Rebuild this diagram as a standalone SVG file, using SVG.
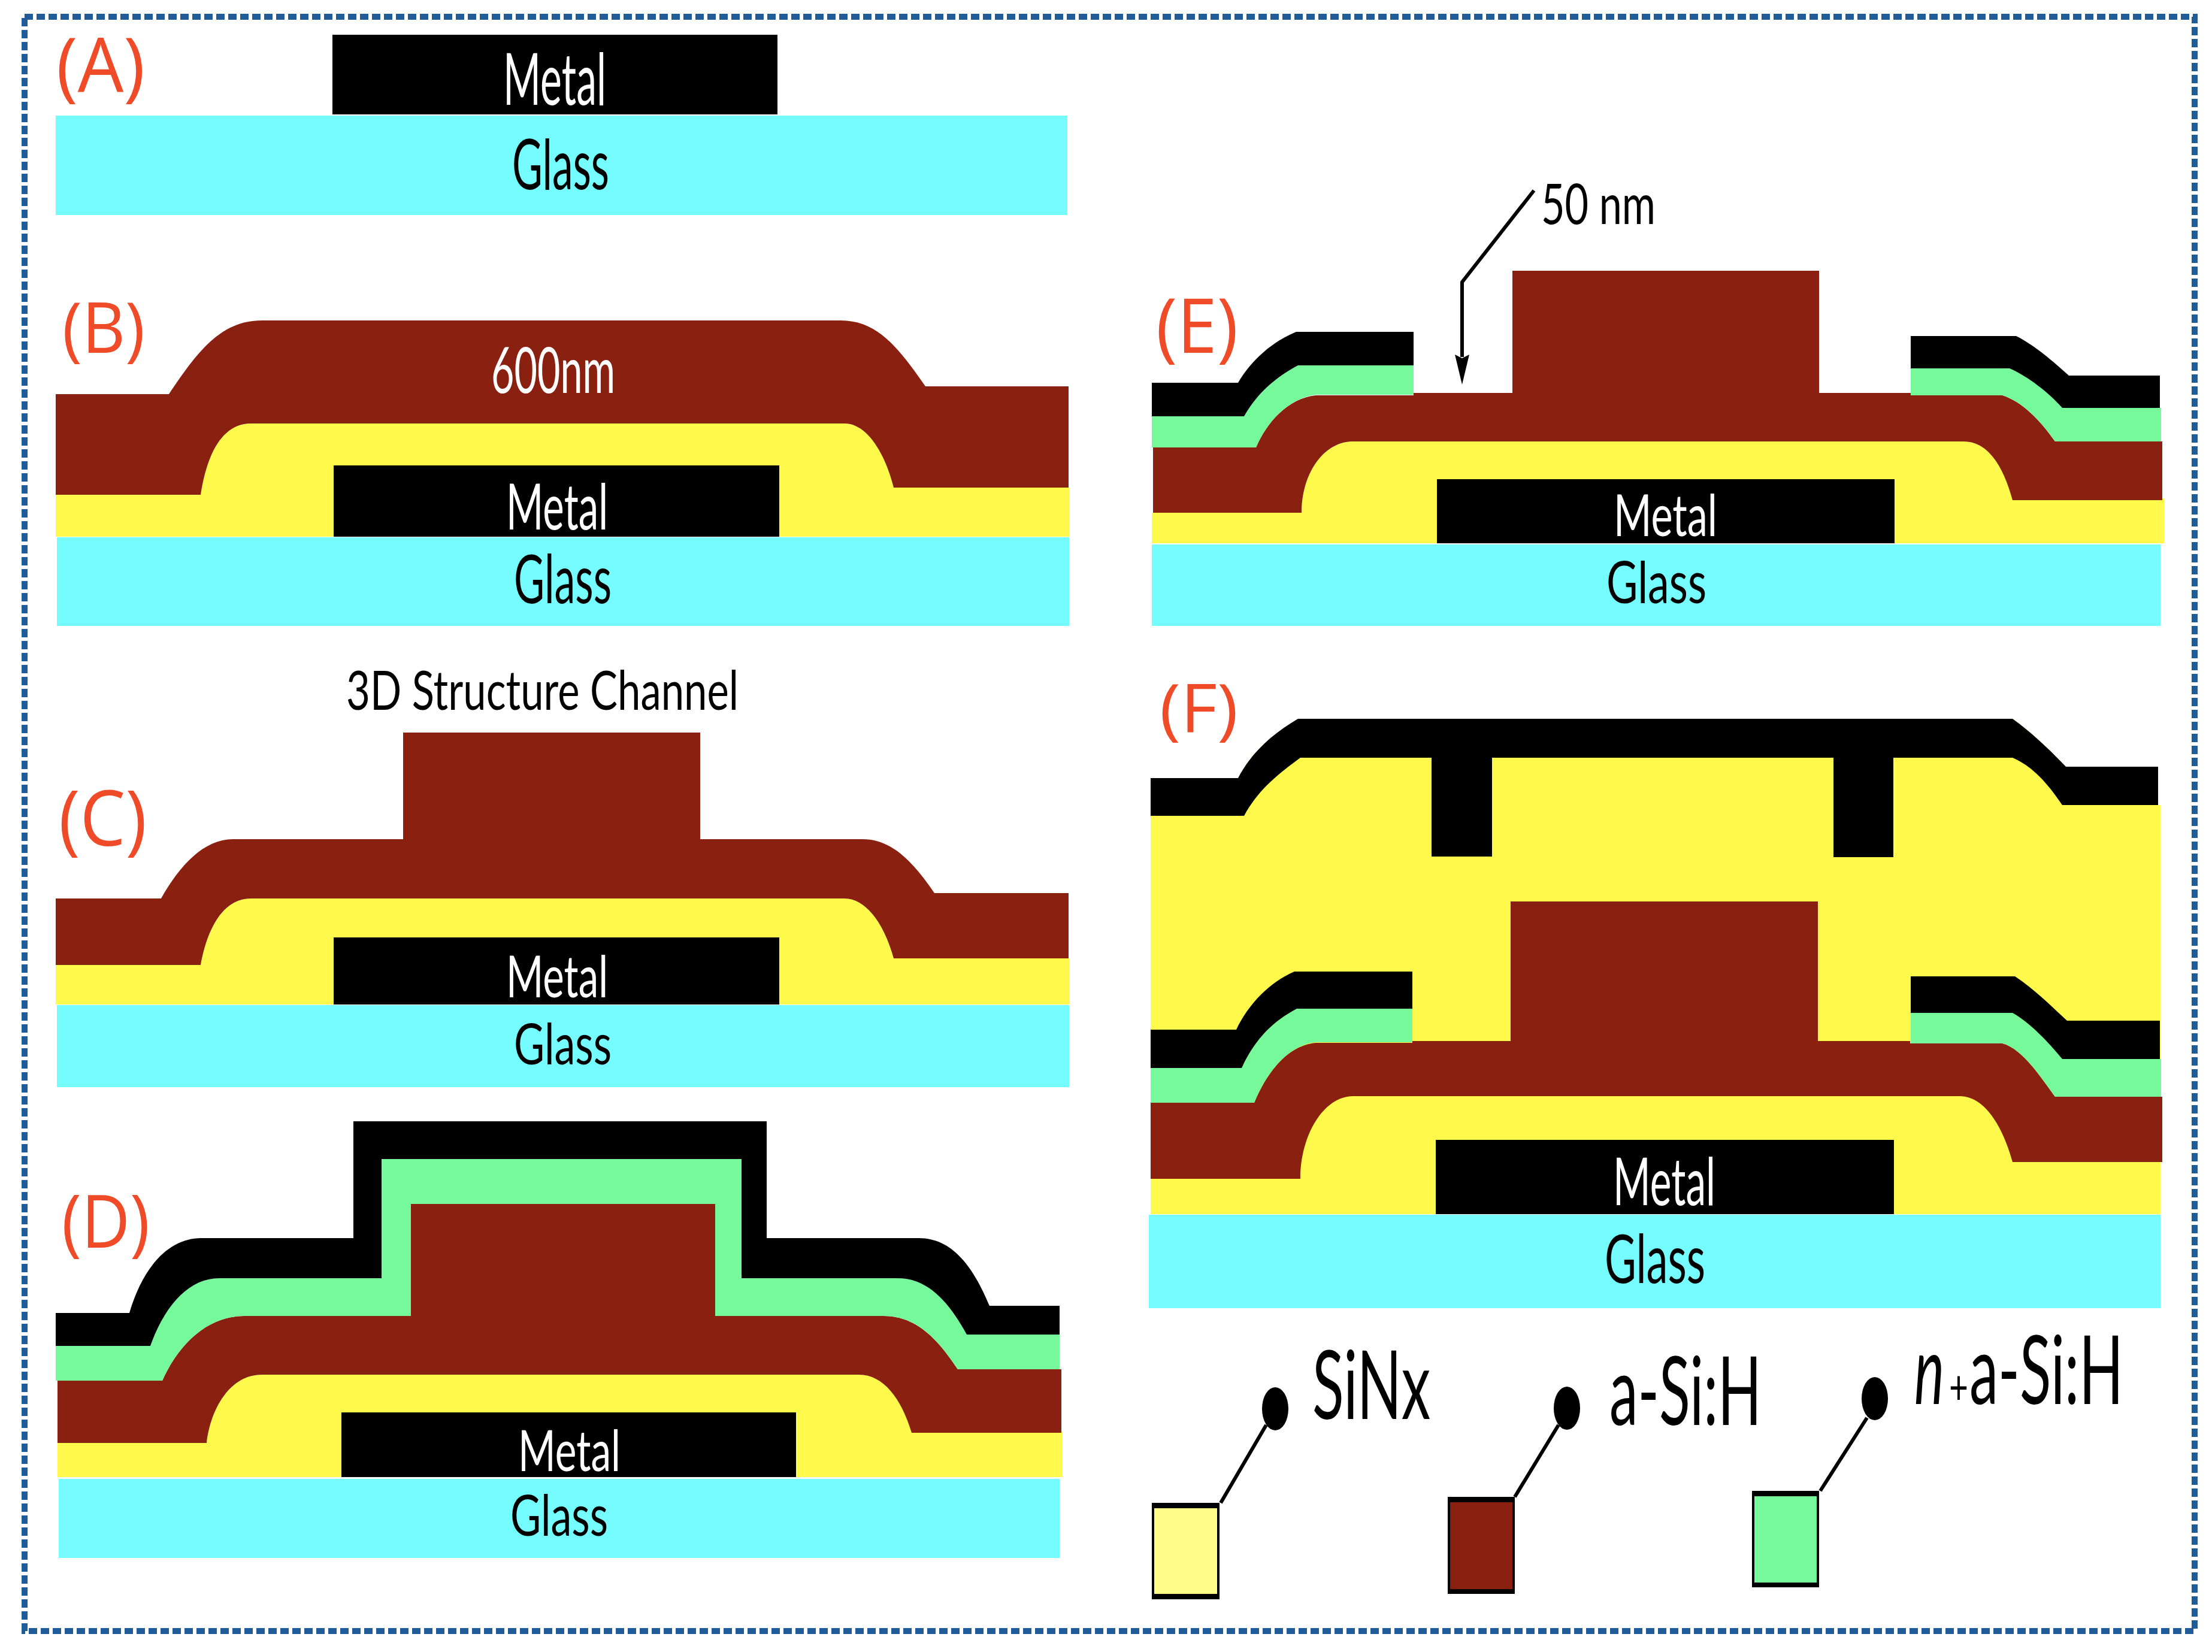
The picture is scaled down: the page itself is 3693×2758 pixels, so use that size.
<svg xmlns="http://www.w3.org/2000/svg" width="3693" height="2758" viewBox="0 0 3693 2758">
<style>
.g{fill:#74FCFE}.k{fill:#000}.s{fill:#8A2110}.y{fill:#FFF94C}.n{fill:#75F99B}
text{font-family:"Lato","Liberation Sans",sans-serif}
.w{fill:#fff}.b{fill:#000}
text.r{fill:#EF4B29;font-family:"Open Sans","Liberation Sans",sans-serif}
.ln{stroke:#000;stroke-width:6;fill:none}
.sw{stroke:#000;stroke-width:4}
</style>
<defs>
<marker id="ah" markerUnits="userSpaceOnUse" markerWidth="50" markerHeight="24" refX="4" refY="12" orient="auto" viewBox="0 0 50 24"><path d="M0,0L50,12L0,24L6,12Z" fill="#000"/></marker>
</defs>
<rect width="3693" height="2758" fill="#fff"/>
<rect id="frame" x="41" y="28" width="3623" height="2695" fill="none" stroke="#1F5C99" stroke-width="10" stroke-dasharray="14 6"/>

<g id="panel-a">
<rect class="k" x="555" y="58" width="743" height="133"/>
<rect class="g" x="93" y="193" width="1689" height="166"/>
<text class="w" x="840" y="175" font-size="120" textLength="172" lengthAdjust="spacingAndGlyphs">Metal</text>
<text class="b" x="855" y="316" font-size="116" textLength="162" lengthAdjust="spacingAndGlyphs">Glass</text>
<text class="r" x="94" y="154" font-size="127" textLength="148" lengthAdjust="spacingAndGlyphs">(A)</text>
</g>

<g id="panel-b">
<path class="y" d="M93,826H335C345,760 370,707 419,707H1410C1447,707 1477,755 1492,814H1786V896H93Z"/>
<path class="s" d="M93,658H282C328,590 367,535 437,535H1404C1467,535 1503,585 1545,645H1784V814H1492C1477,755 1447,707 1410,707H419C370,707 345,760 335,826H93Z"/>
<rect class="k" x="557" y="777" width="744" height="119"/>
<rect class="g" x="95" y="897" width="1690" height="148"/>
<text class="w" x="820" y="656" font-size="107" textLength="207" lengthAdjust="spacingAndGlyphs">600nm</text>
<text class="w" x="845" y="884" font-size="107" textLength="170" lengthAdjust="spacingAndGlyphs">Metal</text>
<text class="b" x="858" y="1007" font-size="112" textLength="163" lengthAdjust="spacingAndGlyphs">Glass</text>
<text class="r" x="104" y="589" font-size="118" textLength="138" lengthAdjust="spacingAndGlyphs">(B)</text>
</g>

<g id="panel-c">
<path class="y" d="M93,1611H335C345,1555 370,1500 419,1500H1410C1447,1500 1477,1545 1492,1600H1786V1677H93Z"/>
<path class="s" d="M93,1500H269C300,1445 340,1401 389,1401H673V1223H1169V1401H1440C1490,1401 1525,1440 1560,1491H1784V1600H1492C1477,1545 1447,1500 1410,1500H419C370,1500 345,1555 335,1611H93Z"/>
<rect class="k" x="557" y="1565" width="744" height="112"/>
<rect class="g" x="95" y="1678" width="1690" height="137"/>
<text class="b" x="578" y="1185" font-size="92" textLength="655" lengthAdjust="spacingAndGlyphs">3D Structure Channel</text>
<text class="w" x="845" y="1665" font-size="97" textLength="170" lengthAdjust="spacingAndGlyphs">Metal</text>
<text class="b" x="858" y="1777" font-size="95" textLength="163" lengthAdjust="spacingAndGlyphs">Glass</text>
<text class="r" x="98" y="1412" font-size="128" textLength="147" lengthAdjust="spacingAndGlyphs">(C)</text>
</g>

<g id="panel-d">
<path class="y" d="M96,2409H345C352,2350 385,2295 437,2295H1434C1475,2295 1505,2335 1522,2390H1774V2466H96Z"/>
<path class="s" d="M96,2305H271C300,2240 350,2197 407,2197H686V2010H1194V2197H1475C1530,2197 1565,2235 1599,2286H1772V2392H1522C1505,2335 1475,2295 1434,2295H437C385,2295 352,2350 345,2409H96Z"/>
<path class="n" d="M93,2247H251C275,2180 315,2134 366,2134H637V1935H1238V2134H1499C1550,2134 1585,2175 1614,2228H1769V2286H1599C1565,2235 1530,2197 1475,2197H1194V2010H686V2197H407C350,2197 300,2240 271,2305H93Z"/>
<path class="k" d="M93,2192H216C240,2110 285,2067 336,2067H590V1872H1280V2067H1534C1590,2067 1625,2115 1652,2180H1769V2228H1614C1585,2175 1550,2134 1499,2134H1238V1935H637V2134H366C315,2134 275,2180 251,2247H93Z"/>
<rect class="k" x="570" y="2358" width="759" height="108"/>
<rect class="g" x="98" y="2469" width="1671" height="132"/>
<text class="w" x="865" y="2456" font-size="95" textLength="171" lengthAdjust="spacingAndGlyphs">Metal</text>
<text class="b" x="852" y="2564" font-size="95" textLength="163" lengthAdjust="spacingAndGlyphs">Glass</text>
<text class="r" x="103" y="2083" font-size="122" textLength="147" lengthAdjust="spacingAndGlyphs">(D)</text>
</g>

<g id="panel-e">
<path class="y" d="M1923,856H2173C2173,790 2210,737 2259,737H3278C3320,737 3345,780 3360,832H3613V907H1923Z"/>
<path class="s" d="M1925,747H2097C2115,705 2150,665 2197,660H2360V656H2525V452H3037V656H3190V660H3343C3375,670 3405,700 3431,737H3610V835H3360C3345,780 3320,737 3278,737H2259C2210,737 2173,790 2173,856H1925Z"/>
<path class="n" d="M1923,695H2077C2100,655 2130,630 2167,610H2360V659H2197C2150,665 2115,705 2097,747H1923Z"/>
<path class="k" d="M1923,639H2067C2090,600 2125,570 2164,554H2360V610H2167C2130,630 2100,655 2077,695H1923Z"/>
<path class="n" d="M3190,615H3355C3385,628 3420,655 3443,681H3608V737H3431C3405,700 3375,670 3343,660H3190Z"/>
<path class="k" d="M3190,561H3366C3395,575 3430,605 3454,627H3606V681H3443C3420,655 3385,628 3355,615H3190Z"/>
<rect class="k" x="2399" y="800" width="764" height="107"/>
<rect class="g" x="1923" y="909" width="1684" height="136"/>
<text class="b" x="2573" y="374" font-size="94" textLength="191" lengthAdjust="spacingAndGlyphs">50 nm</text>
<text class="w" x="2694" y="895" font-size="96" textLength="173" lengthAdjust="spacingAndGlyphs">Metal</text>
<text class="b" x="2682" y="1007" font-size="96" textLength="167" lengthAdjust="spacingAndGlyphs">Glass</text>
<text class="r" x="1930" y="589" font-size="127" textLength="137" lengthAdjust="spacingAndGlyphs">(E)</text>
</g>

<g id="panel-f">
<path class="y" d="M1921,1299H2067C2090,1255 2125,1225 2167,1200H3360C3395,1225 3425,1255 3449,1280H3603V1344H3607V2027H1921Z"/>
<path class="k" d="M1921,1299H2067C2090,1255 2125,1225 2167,1200H3360C3395,1225 3425,1255 3449,1280H3603V1344H3443C3420,1310 3395,1280 3360,1265H3161V1431H3061V1265H2491V1430H2390V1265H2171C2130,1295 2100,1320 2077,1362H1921Z"/>
<path class="s" d="M1921,1841H2094C2115,1790 2150,1745 2197,1741H2358V1738H2522V1505H3035V1738H3189V1742H3343C3375,1750 3405,1795 3431,1831H3610V1940H3360C3345,1885 3315,1830 3272,1830H2259C2210,1830 2171,1895 2171,1968H1921Z"/>
<path class="n" d="M1921,1783H2073C2095,1735 2125,1705 2165,1684H2358V1740H2197C2150,1745 2115,1790 2094,1841H1921Z"/>
<path class="k" d="M1921,1719H2064C2085,1675 2120,1640 2161,1622H2358V1684H2165C2125,1705 2095,1735 2073,1783H1921Z"/>
<path class="n" d="M3190,1691H3360C3390,1708 3420,1740 3443,1768H3608V1831H3431C3405,1795 3375,1750 3343,1742H3190Z"/>
<path class="k" d="M3190,1630H3364C3395,1650 3425,1680 3451,1704H3606V1768H3443C3420,1740 3390,1708 3360,1691H3190Z"/>
<rect class="k" x="2397" y="1903" width="765" height="124"/>
<rect class="g" x="1918" y="2028" width="1689" height="156"/>
<text class="w" x="2693" y="2012" font-size="110" textLength="171" lengthAdjust="spacingAndGlyphs">Metal</text>
<text class="b" x="2679" y="2142" font-size="112" textLength="168" lengthAdjust="spacingAndGlyphs">Glass</text>
<text class="r" x="1936" y="1222" font-size="112" textLength="131" lengthAdjust="spacingAndGlyphs">(F)</text>
</g>

<g id="legend">
<g id="legend-sinx">
<rect x="1925" y="2512" width="109" height="155" fill="#FFFC88" class="sw"/>
<rect class="k" x="1923" y="2509" width="113" height="9"/>
<rect class="k" x="1923" y="2661" width="113" height="9"/>
<ellipse cx="2129" cy="2352" rx="22" ry="36"/>
<text class="b" x="2191" y="2369" font-size="160" textLength="197" lengthAdjust="spacingAndGlyphs">SiNx</text>
</g>
<g id="legend-asi">
<rect x="2419" y="2502" width="108" height="156" class="s sw"/>
<rect class="k" x="2417" y="2499" width="112" height="9"/>
<rect class="k" x="2417" y="2653" width="112" height="8"/>
<ellipse cx="2616" cy="2351" rx="22" ry="36"/>
<text class="b" x="2687" y="2379" font-size="160" textLength="254" lengthAdjust="spacingAndGlyphs">a-Si:H</text>
</g>
<g id="legend-nasi">
<rect x="2927" y="2492" width="108" height="155" class="n sw"/>
<rect class="k" x="2925" y="2489" width="112" height="9"/>
<rect class="k" x="2925" y="2642" width="112" height="8"/>
<ellipse cx="3130" cy="2335" rx="22" ry="36"/>
<text class="b" x="3196" y="2344" font-size="160" font-style="italic" textLength="50" lengthAdjust="spacingAndGlyphs">n</text>
<text class="b" x="3254" y="2344" font-size="80" textLength="32" lengthAdjust="spacingAndGlyphs">+</text>
<text class="b" x="3288" y="2344" font-size="160" textLength="257" lengthAdjust="spacingAndGlyphs">a-Si:H</text>
</g>
</g>

<g id="connectors">
<path class="ln" d="M2561,318L2441,471V596" marker-end="url(#ah)"/>
<path class="ln" d="M2038,2509L2114,2379"/>
<path class="ln" d="M2529,2499L2602,2379"/>
<path class="ln" d="M3039,2489L3117,2367"/>
</g>
</svg>
